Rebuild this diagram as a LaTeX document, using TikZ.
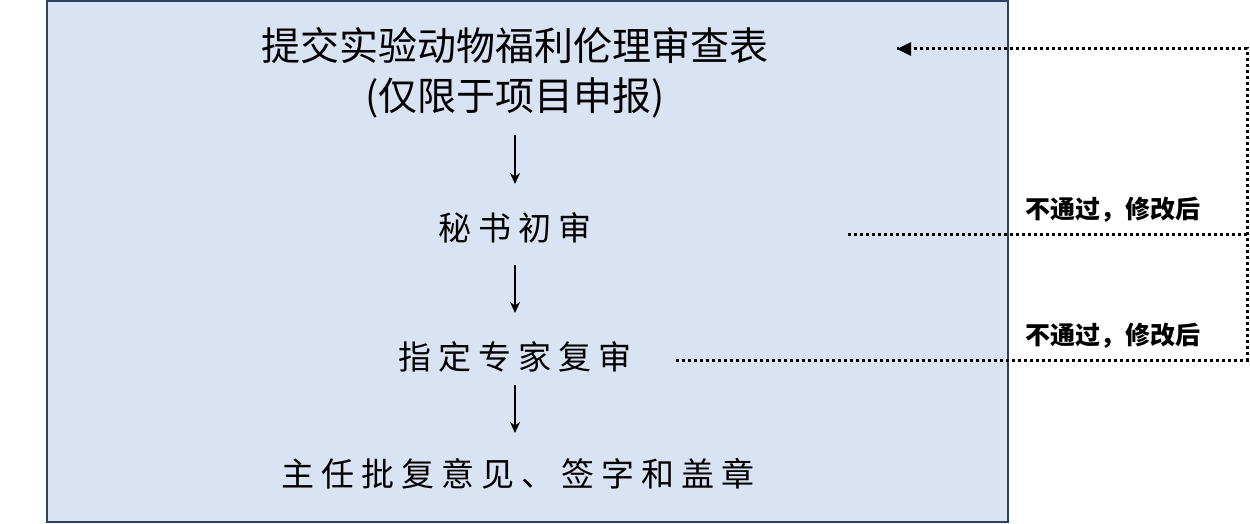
\documentclass[tikz,border=0pt]{standalone}
\usepackage{fontspec}
\newfontfamily\cjk{Noto Sans CJK SC}
\usetikzlibrary{arrows.meta}
\definecolor{boxfill}{RGB}{218,227,243}
\definecolor{boxline}{RGB}{47,64,100}
\newcommand{\gp}{\kern7pt}
\tikzset{
  stage/.style={font=\cjk\fontsize{33}{40}\selectfont, inner sep=0pt, align=center},
  title/.style={font=\cjk\fontsize{39}{50}\selectfont, inner sep=0pt, align=center},
  stepnote/.style={font=\cjk\bfseries\fontsize{25}{30}\selectfont, inner sep=0pt},
  down/.style={-{Stealth[length=11pt,width=10pt]}, line width=2.5pt},
  back/.style={line width=3pt, dash pattern=on 3pt off 3pt}
}
\begin{document}
\begin{tikzpicture}[x=1pt,y=-1pt]
  \useasboundingbox (0,0) rectangle (1250,524);
  %main box
  \draw[boxline, fill=boxfill, line width=2pt] (47,1) rectangle (1008,522);

  %stages
  \node[title] (submit) at (515,73) {提交实验动物福利伦理审查表\\(仅限于项目申报)};
  \node[stage] (first) at (515,228) {秘\gp 书\gp 初\gp 审};
  \node[stage] (expert) at (515,357) {指\gp 定\gp 专\gp 家\gp 复\gp 审};
  \node[stage] (final) at (518,474) {主\gp 任\gp 批\gp 复\gp 意\gp 见\gp 、\gp 签\gp 字\gp 和\gp 盖\gp 章};

  %flow arrows
  \coordinate (a1) at (515,135); \coordinate (b1) at (515,184);
  \coordinate (a2) at (515,265); \coordinate (b2) at (515,313);
  \coordinate (a3) at (515,385); \coordinate (b3) at (515,433);
  \draw[down] (a1) -- (b1);
  \draw[down] (a2) -- (b2);
  \draw[down] (a3) -- (b3);

  %return path
  \coordinate (r1) at (848,234);
  \coordinate (r2) at (676,360);
  \coordinate (c1) at (1247,234);
  \coordinate (c2) at (1247,360);
  \coordinate (c0) at (1247,49);
  \coordinate (tip) at (897,49);
  \draw[back] (r1) -- (c1);
  \draw[back] (r2) -- (c2) -- (c0) -- (tip);
  \fill (tip) -- ++(14,-7) -- ++(0,14) -- cycle;

  \node[stepnote] (note1) at (1113,210) {不通过，修改后};
  \node[stepnote] (note2) at (1113,336) {不通过，修改后};
\end{tikzpicture}
\end{document}
